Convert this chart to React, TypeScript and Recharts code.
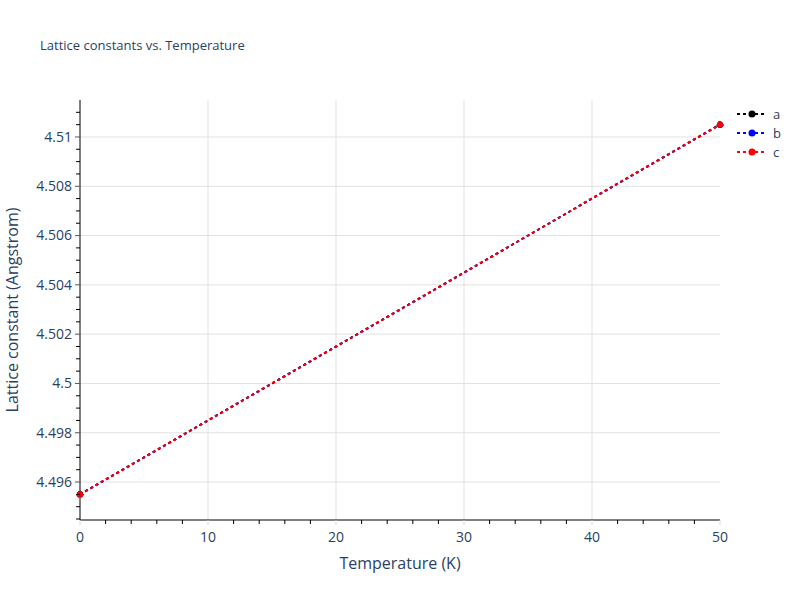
import React from "react";
import { LineChart, Line, XAxis, YAxis, ReferenceLine } from "recharts";

const temperatures = [0, 50];
const aValues = [4.4955, 4.5105];
const bValues = [4.4955, 4.5105];
const cValues = [4.4955, 4.5105];

const xTicks = [0, 2, 4, 6, 8, 10, 12, 14, 16, 18, 20, 22, 24, 26, 28, 30, 32, 34, 36, 38, 40, 42, 44, 46, 48, 50];
const xMajor = [0, 10, 20, 30, 40, 50];
const xGrid = [10, 20, 30, 40];
const yTicks = [
  4.4945, 4.495, 4.4955, 4.496, 4.4965, 4.497, 4.4975, 4.498, 4.4985, 4.499, 4.4995, 4.5, 4.5005,
  4.501, 4.5015, 4.502, 4.5025, 4.503, 4.5035, 4.504, 4.5045, 4.505, 4.5055, 4.506, 4.5065, 4.507,
  4.5075, 4.508, 4.5085, 4.509, 4.5095, 4.51, 4.5105, 4.511,
];
const yMajor = [4.496, 4.498, 4.5, 4.502, 4.504, 4.506, 4.508, 4.51];
const yDomain = [4.49446, 4.5115];

const seriesNames = ["a", "b", "c"];
const seriesColors = ["#000000", "#0000ff", "#ff0000"];

const data = temperatures.map((t, i) => ({ t, a: aValues[i], b: bValues[i], c: cValues[i] }));

const FONT = '"Open Sans", verdana, arial, sans-serif';
const TXT = "#2a3f5f";

const isMajorY = (v: number) => yMajor.some((m) => Math.abs(m - v) < 1e-9);

const XTick = (props: any) => {
  const { x, y, payload } = props;
  const v = payload.value;
  const major = xMajor.includes(v);
  return (
    <g>
      <line x1={x} x2={x} y1={y} y2={y + (major ? 5 : 4)} stroke={major ? "#d9d9d9" : "#000"} strokeWidth={1} />
      {major && (
        <text x={x} y={y + 22} textAnchor="middle" fontSize={14} fill={TXT} fontFamily={FONT}>
          {v}
        </text>
      )}
    </g>
  );
};

const YTick = (props: any) => {
  const { x, y, payload } = props;
  const v = payload.value;
  const major = isMajorY(v);
  return (
    <g>
      <line x1={x} x2={x - (major ? 5 : 4)} y1={y} y2={y} stroke={major ? "#555" : "#000"} strokeWidth={1} />
      {major && (
        <text x={x - 8} y={y} dy="0.35em" textAnchor="end" fontSize={14} fill={TXT} fontFamily={FONT}>
          {parseFloat(v.toFixed(3)).toString()}
        </text>
      )}
    </g>
  );
};

const LegendBox = () => (
  <svg width={60} height={60} style={{ position: "absolute", left: 735, top: 104 }}>
    {seriesNames.map((n, i) => (
      <g key={n} transform={`translate(0, ${i * 19 + 10})`}>
        <line x1={2} x2={30} y1={0} y2={0} stroke={seriesColors[i]} strokeWidth={2} strokeDasharray="3 3" />
        <circle cx={17} cy={0} r={3.5} fill={seriesColors[i]} />
        <text x={38} y={0} dy="0.35em" fontSize={13} fill={TXT} fontFamily={FONT}>
          {n}
        </text>
      </g>
    ))}
  </svg>
);

export default function App() {
  return (
    <div style={{ position: "absolute", left: 0, top: 0, width: 800, height: 600, background: "#fff" }}>
      <div
        style={{
          position: "absolute",
          left: 40,
          top: 36,
          fontFamily: FONT,
          fontSize: 13,
          color: TXT,
          whiteSpace: "nowrap",
        }}
      >
        Lattice constants vs. Temperature
      </div>
      <LineChart width={800} height={600} data={data} margin={{ top: 100, right: 80, bottom: 0, left: 0 }}>
        {xGrid.map((v) => (
          <ReferenceLine key={`gx${v}`} x={v} stroke="#e1e1e1" strokeWidth={1} />
        ))}
        {yMajor.map((v) => (
          <ReferenceLine key={`gy${v}`} y={v} stroke="#e1e1e1" strokeWidth={1} />
        ))}
        <XAxis
          dataKey="t"
          type="number"
          domain={[0, 50]}
          ticks={xTicks}
          interval={0}
          height={80}
          tickSize={0}
          tickMargin={0}
          tickLine={false}
          tick={<XTick />}
          axisLine={{ stroke: "#000", strokeWidth: 1 }}
          label={{
            value: "Temperature (K)",
            position: "insideBottom",
            offset: 31,
            fontSize: 16,
            fill: TXT,
            fontFamily: FONT,
          }}
        />
        <YAxis
          type="number"
          domain={yDomain}
          ticks={yTicks}
          interval={0}
          allowDataOverflow
          width={80}
          tickSize={0}
          tickMargin={0}
          tickLine={false}
          tick={<YTick />}
          axisLine={{ stroke: "#000", strokeWidth: 1 }}
          label={{
            value: "Lattice constant (Angstrom)",
            angle: -90,
            position: "insideLeft",
            offset: 12,
            fontSize: 16,
            fill: TXT,
            fontFamily: FONT,
            style: { textAnchor: "middle" },
          }}
        />
        {seriesNames.map((n, i) => (
          <Line
            key={n}
            dataKey={n}
            name={n}
            stroke={seriesColors[i]}
            strokeWidth={2}
            strokeDasharray="3 3"
            dot={{ r: 3, fill: seriesColors[i], stroke: seriesColors[i], strokeWidth: 1 }}
            activeDot={false}
            isAnimationActive={false}
          />
        ))}
      </LineChart>
      <LegendBox />
    </div>
  );
}
